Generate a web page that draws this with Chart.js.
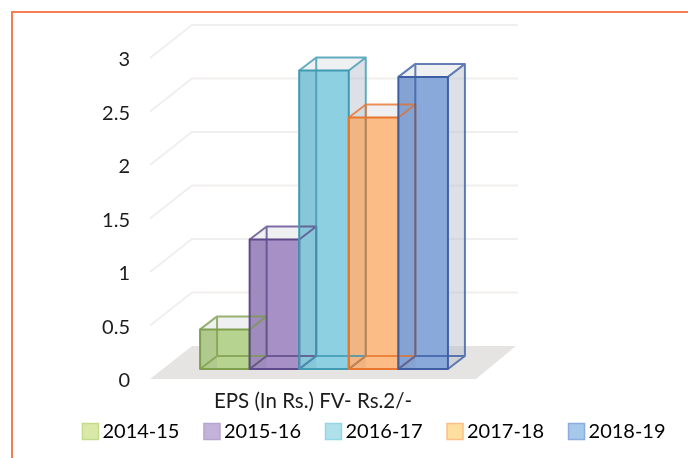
<!DOCTYPE html>
<html>
<head>
<meta charset="utf-8">
<script src="https://cdn.jsdelivr.net/npm/chart.js@4"></script>
<style>
    html, body { margin: 0; padding: 0; background: #fff; }
    #box { position: absolute; left: 11px; top: 11px; width: 677px; height: 447px; border-left: 2px solid #f47f50; border-top: 2px solid #f47f50; box-sizing: border-box; }
    #wrap { position: absolute; left: 0; top: 0; width: 688px; height: 458px; }
</style>
</head>
<body>
<div id="wrap"><canvas id="myChart" width="688" height="458"></canvas></div>
<div id="box"></div>
<script>
const categories = ['EPS (In Rs.) FV- Rs.2/-'];
const seriesNames = ['2014-15', '2015-16', '2016-17', '2017-18', '2018-19'];
const seriesValues = [0.37, 1.21, 2.79, 2.35, 2.73];
const yTicks = [0, 0.5, 1, 1.5, 2, 2.5, 3];

const frontColors = ['#b6d390', '#a690c6', '#8cd0e2', '#fbbd85', '#89a9db'];
const lineColors = ['#7f9f4f', '#5f4a8c', '#3f9ab2', '#e8762e', '#3f5fa5'];
const legendFill = ['#dbe9a8', '#c4b3d8', '#b0e0ea', '#fddfa0', '#a6c8ea'];
const legendLine = ['#c3dc8c', '#b8a3d0', '#95d6e6', '#fbbf85', '#8dade0'];

const FONT = 'Lato';
const DX = 17, DY = 13; // depth of one bar

const box3d = {
    id: 'box3d',
    afterLayout(chart) {
        // the legend's big item padding would push it into the axis label
        const lg = chart.legend;
        lg.left += 13;
        lg.right += 13;
        lg.top -= 21;
        lg.bottom = chart.height;
    },
    beforeDatasetsDraw(chart) {
        const { ctx, chartArea: a, scales: { y } } = chart;
        const y0 = y.getPixelForValue(0);

        // floor
        ctx.save();
        ctx.fillStyle = '#e6e4e2';
        ctx.beginPath();
        ctx.moveTo(a.left - 12, y0 + 10);
        ctx.lineTo(a.left + 30, y0 - 23);
        ctx.lineTo(a.right + 30, y0 - 23);
        ctx.lineTo(a.right - 10, y0 + 10);
        ctx.closePath();
        ctx.fill();

        // walls
        ctx.strokeStyle = '#f1efee';
        ctx.lineWidth = 2;
        yTicks.slice(1).forEach(t => {
            const py = y.getPixelForValue(t);
            ctx.beginPath();
            ctx.moveTo(a.left - 12, py + 10);
            ctx.lineTo(a.left + 30, py - 23);
            ctx.lineTo(a.right + 32, py - 23);
            ctx.stroke();
        });

        // faces behind the fronts
        chart.getSortedVisibleDatasetMetas().forEach(meta => {
            const b = meta.data[0];
            const l = b.x - b.width / 2, r = b.x + b.width / 2;
            ctx.fillStyle = 'rgba(175,183,198,0.42)';
            ctx.beginPath();
            ctx.moveTo(r, b.y);
            ctx.lineTo(r + DX, b.y - DY);
            ctx.lineTo(r + DX, b.base - DY);
            ctx.lineTo(r, b.base);
            ctx.closePath();
            ctx.fill();
            ctx.fillStyle = 'rgba(190,195,205,0.25)';
            ctx.beginPath();
            ctx.moveTo(l, b.y);
            ctx.lineTo(l + DX, b.y - DY);
            ctx.lineTo(r + DX, b.y - DY);
            ctx.lineTo(r, b.y);
            ctx.closePath();
            ctx.fill();
        });
        ctx.restore();
    },
    afterDatasetsDraw(chart) {
        const { ctx } = chart;
        ctx.save();
        ctx.lineWidth = 2;
        ctx.lineJoin = 'round';
        seriesValues.forEach((v, i) => {
            const b = chart.getDatasetMeta(i).data[0];
            const l = b.x - b.width / 2, r = b.x + b.width / 2;
            const t = b.y, g = b.base;

            // left side tint, seen through the front
            ctx.fillStyle = 'rgba(60,70,90,0.06)';
            ctx.fillRect(l, t, DX, g - t);

            ctx.strokeStyle = lineColors[i];
            ctx.globalAlpha = 0.8;
            ctx.beginPath();
            ctx.moveTo(l + DX, g - DY);
            ctx.lineTo(l + DX, t - DY);
            ctx.moveTo(l + DX, g - DY);
            ctx.lineTo(r + DX, g - DY);
            ctx.moveTo(l, g);
            ctx.lineTo(l + DX, g - DY);
            ctx.moveTo(l, t);
            ctx.lineTo(l + DX, t - DY);
            ctx.lineTo(r + DX, t - DY);
            ctx.lineTo(r, t);
            ctx.moveTo(r + DX, t - DY);
            ctx.lineTo(r + DX, g - DY);
            ctx.lineTo(r, g);
            ctx.stroke();
            ctx.globalAlpha = 1;
            ctx.strokeRect(l, t, r - l, g - t);
        });
        ctx.restore();
    }
};

new Chart(document.getElementById('myChart'), {
    type: 'bar',
    data: {
        labels: categories,
        datasets: seriesNames.map((name, i) => ({
            label: name,
            data: [seriesValues[i]],
            backgroundColor: frontColors[i],
            borderWidth: 0
        }))
    },
    options: {
        responsive: false,
        animation: false,
        datasets: { bar: { categoryPercentage: 0.765, barPercentage: 1 } },
        layout: { padding: { left: 40, right: 0, top: 48, bottom: 10 } },
        plugins: {
            tooltip: { enabled: false },
            legend: {
                position: 'bottom',
                maxHeight: 36,
                labels: {
                    usePointStyle: true,
                    boxWidth: 4,
                    boxHeight: 16,
                    padding: 30.5,
                    color: '#1c1c1c',
                    font: { family: FONT, size: 20 },
                    generateLabels: () => seriesNames.map((name, i) => ({
                        text: name,
                        fillStyle: legendFill[i],
                        strokeStyle: legendLine[i],
                        lineWidth: 1.5,
                        pointStyle: 'rect',
                        datasetIndex: i
                    }))
                }
            }
        },
        scales: {
            x: {
                grid: { display: false },
                border: { display: false },
                ticks: { padding: 12, labelOffset: -11, color: '#1c1c1c', font: { family: FONT, size: 20.5 } },
                afterFit: s => { s.height = 43; }
            },
            y: {
                min: 0,
                max: 3,
                afterBuildTicks: s => { s.ticks = yTicks.map(value => ({ value })); },
                grid: { display: false, drawTicks: false },
                border: { display: false },
                ticks: { padding: 32, labelOffset: 12, color: '#1c1c1c', font: { family: FONT, size: 20 }, callback: v => String(v) },
                afterFit: s => { s.width = 122; }
            },
            spacer: {
                position: 'right',
                display: true,
                grid: { display: false, drawTicks: false },
                border: { display: false },
                ticks: { display: false },
                afterFit: s => { s.width = 202; }
            }
        }
    },
    plugins: [box3d]
});
</script>
</body>
</html>
